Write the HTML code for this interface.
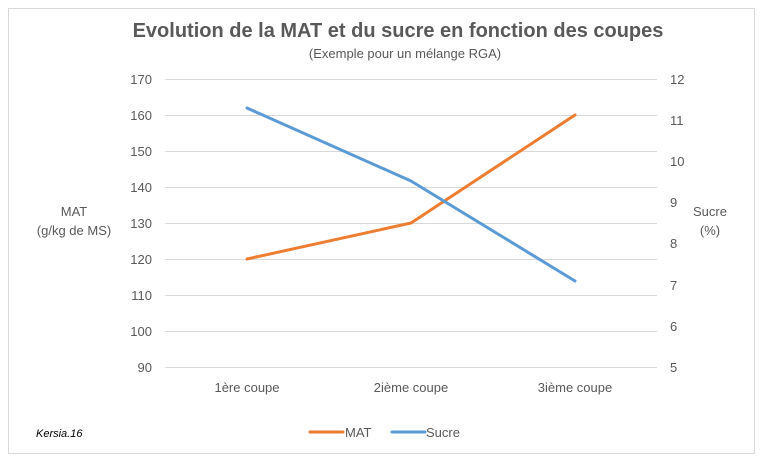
<!DOCTYPE html>
<html><head><meta charset="utf-8"><style>
body{margin:0;background:#fff}
svg text{font-family:"Liberation Sans",sans-serif}
</style></head><body>
<svg width="763" height="462" xmlns="http://www.w3.org/2000/svg">
<rect x="0" y="0" width="763" height="462" fill="#fff"/>
<rect x="8.5" y="8.5" width="746" height="445" fill="#fff" stroke="#d9d9d9"/>
<text x="398" y="37" text-anchor="middle" font-size="20" font-weight="bold" fill="#595959">Evolution de la MAT et du sucre en fonction des coupes</text>
<text x="405" y="58" text-anchor="middle" font-size="13" fill="#595959">(Exemple pour un mélange RGA)</text>
<g stroke="#d9d9d9" stroke-width="1">
<line x1="165" x2="657" y1="79.5" y2="79.5"/><line x1="165" x2="657" y1="115.5" y2="115.5"/>
<line x1="165" x2="657" y1="151.5" y2="151.5"/><line x1="165" x2="657" y1="187.5" y2="187.5"/>
<line x1="165" x2="657" y1="223.5" y2="223.5"/><line x1="165" x2="657" y1="259.5" y2="259.5"/>
<line x1="165" x2="657" y1="295.5" y2="295.5"/><line x1="165" x2="657" y1="331.5" y2="331.5"/>
<line x1="165" x2="657" y1="367.5" y2="367.5"/>
</g>
<g font-size="13" fill="#595959" text-anchor="end">
<text x="152" y="84">170</text><text x="152" y="120">160</text><text x="152" y="156">150</text>
<text x="152" y="192">140</text><text x="152" y="228">130</text><text x="152" y="264">120</text>
<text x="152" y="300">110</text><text x="152" y="336">100</text><text x="152" y="372">90</text>
</g>
<g font-size="13" fill="#595959">
<text x="670" y="84">12</text><text x="670" y="125">11</text><text x="670" y="166">10</text>
<text x="670" y="207">9</text><text x="670" y="248">8</text><text x="670" y="290">7</text>
<text x="670" y="331">6</text><text x="670" y="372">5</text>
</g>
<g font-size="13" fill="#595959" text-anchor="middle">
<text x="74" y="216">MAT</text><text x="74" y="235">(g/kg de MS)</text>
<text x="710" y="216">Sucre</text><text x="710" y="235">(%)</text>
<text x="247" y="392">1ère coupe</text><text x="411" y="392">2ième coupe</text><text x="575" y="392">3ième coupe</text>
</g>
<polyline points="247,259 411,223 575,115" fill="none" stroke="#ed7d31" stroke-width="3" stroke-linecap="round" stroke-linejoin="round"/>
<polyline points="247,108 411,181 575,281" fill="none" stroke="#5b9bd5" stroke-width="3" stroke-linecap="round" stroke-linejoin="round"/>
<text x="36" y="437" font-size="11" font-style="italic" fill="#000">Kersia.16</text>
<line x1="310" x2="343" y1="432" y2="432" stroke="#ed7d31" stroke-width="3" stroke-linecap="round"/>
<text x="345" y="437" font-size="13" fill="#595959">MAT</text>
<line x1="392" x2="425" y1="432" y2="432" stroke="#5b9bd5" stroke-width="3" stroke-linecap="round"/>
<text x="426" y="437" font-size="13" fill="#595959">Sucre</text>
</svg>
</body></html>
